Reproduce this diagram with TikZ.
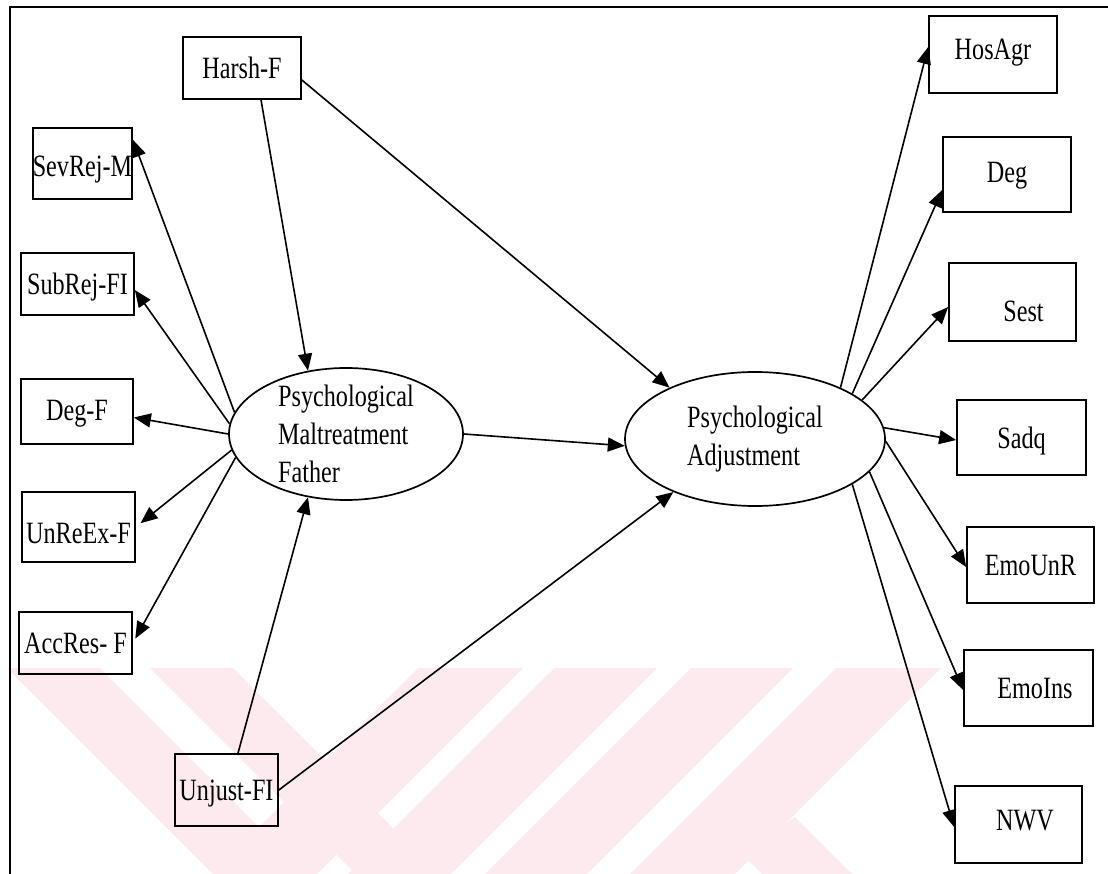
\documentclass[tikz,border=0pt]{standalone}
\usepackage{fontspec}
\setmainfont{Liberation Serif}[FakeStretch=0.78]
\usetikzlibrary{shapes.geometric,arrows.meta,calc}
\definecolor{wmpink}{RGB}{253,234,238}
\begin{document}
\begin{tikzpicture}[x=1pt,y=-1pt,
  every node/.style={font=\fontsize{31}{38}\selectfont},
  obs/.style={draw, line width=1.7pt, rectangle, inner xsep=0pt, inner ysep=0pt, text height=21pt, text depth=0pt},
  lat/.style={draw, line width=1.7pt, ellipse, inner sep=0pt},
  lattext/.style={align=left, inner sep=0pt},
  arr/.style={line width=1.6pt, -{Triangle[length=17pt,width=14pt]}},
  wm/.style={fill=wmpink, draw=none}
]
\useasboundingbox (0,0) rectangle (1108,874);
% watermark
\begin{scope}
\clip (0,0) rectangle (1108,874);
\path[wm] (7,668) -- (100,668) -- (306,874) -- (213,874) -- cycle;
\path[wm] (150,668) -- (233,668) -- (439,874) -- (356,874) -- cycle;
\path[wm] (418,668) -- (523,668) -- (317,874) -- (212,874) -- cycle;
\path[wm] (554,668) -- (657,668) -- (451,874) -- (348,874) -- cycle;
\path[wm] (691,668) -- (793,668) -- (587,874) -- (485,874) -- cycle;
\path[wm] (836,668) -- (941,668) -- (735,874) -- (630,874) -- cycle;
\path[wm] (795,817) -- (852,874) -- (762,874) -- (740,852) -- cycle;
\end{scope}
% frame
\coordinate (fbl) at (10,874);
\coordinate (ftl) at (10,7);
\coordinate (ftr) at (1108,7);
\draw[line width=2.2pt] (fbl) -- (ftl) -- (ftr);
% left indicators
\node[obs, minimum width=118pt, minimum height=62pt] (harsh) at (242,68) {Harsh-F};
\node[obs, minimum width=99pt, minimum height=71pt, text height=27pt] (sevrej) at (82.5,163.5) {SevRej-M};
\node[obs, minimum width=113pt, minimum height=62pt] (subrej) at (77.5,284) {SubRej-FI};
\node[obs, minimum width=112pt, minimum height=65pt, text height=17pt] (degf) at (77,411.5) {Deg-F};
\node[obs, minimum width=113pt, minimum height=70pt, text height=32pt] (unreex) at (78.5,527) {UnReEx-F};
\node[obs, minimum width=113pt, minimum height=62pt] (accres) at (75.5,643) {AccRes- F};
\node[obs, minimum width=103pt, minimum height=72pt] (unjust) at (226.5,790) {Unjust-FI};
% right indicators
\node[obs, minimum width=128pt, minimum height=77pt, text height=11pt] (hosagr) at (993,54.5) {HosAgr};
\node[obs, minimum width=128pt, minimum height=75pt, text height=17pt] (deg) at (1007,174.5) {Deg};
\node[obs, minimum width=127pt, minimum height=78pt, text height=40pt] (sest) at (1012.5,302) {\hspace*{22pt}Sest};
\node[obs, minimum width=129pt, minimum height=75pt] (sadq) at (1021.5,437.5) {Sadq};
\node[obs, minimum width=127pt, minimum height=76pt] (emounr) at (1030.5,565) {EmoUnR};
\node[obs, minimum width=129pt, minimum height=76pt] (emoins) at (1028.5,688) {\hspace*{13pt}EmoIns};
\node[obs, minimum width=127pt, minimum height=77pt, text height=11pt] (nwv) at (1018.5,824.5) {\hspace*{13pt}NWV};
% latent variables
\node[lat, minimum width=234pt, minimum height=132pt] (pmf) at (346,434) {};
\node[lattext] (pmftext) at (pmf.center) {Psychological\\Maltreatment\\Father};
\node[lat, minimum width=260pt, minimum height=134pt] (pa) at (755,439) {};
\node[lattext] (patext) at (pa.center) {Psychological\\Adjustment};
% arrows
\draw[arr] (pmf.169) -- (sevrej.25);
\draw[arr] (pmf.175) -- (subrej.-6);
\draw[arr] (pmf.180) -- (degf.-6);
\draw[arr, shorten >=6pt] (pmf.188) -- (unreex.east);
\draw[arr, shorten >=5pt] (pmf.192) -- (accres.east);
\draw[arr] ([xshift=19pt]harsh.south) -- (pmf.121);
\draw[arr] ([yshift=-12pt]harsh.east) -- (pa.149);
\draw[arr] (pmf.east) -- (pa.183);
\draw[arr] ([xshift=11.5pt]unjust.north) -- (pmf.239.5);
\draw[arr] (unjust.east) -- (pa.213);
\draw[arr] (pa.31) -- ([yshift=7.5pt]hosagr.west);
\draw[arr] (pa.25) -- ([yshift=-15.5pt]deg.west);
\draw[arr] (pa.20) -- ([yshift=-5pt]sest.west);
\draw[arr] (pa.5) -- ([yshift=-2.5pt]sadq.west);
\draw[arr] (pa.-1.3) -- ([yshift=-2pt]emounr.west);
\draw[arr] (pa.-16) -- ([yshift=-2pt]emoins.west);
\draw[arr] (pa.-25) -- ([yshift=-2.5pt]nwv.west);
\end{tikzpicture}
\end{document}
